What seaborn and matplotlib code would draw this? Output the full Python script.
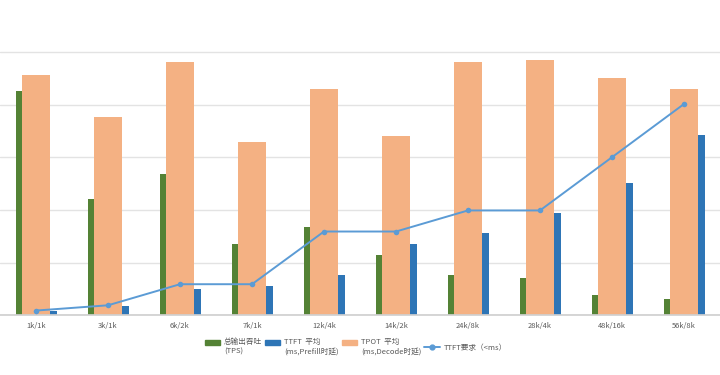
import matplotlib
matplotlib.use('Agg')
import matplotlib.pyplot as plt
import seaborn as sns
import numpy as np
import pandas as pd
from matplotlib.patches import Patch
from matplotlib.lines import Line2D

categories = ['1k/1k', '3k/1k', '6k/2k', '7k/1k', '12k/4k', '14k/2k', '24k/8k', '28k/4k', '48k/16k', '56k/8k']
tps = [4260, 2200, 2690, 1360, 1670, 1140, 760, 710, 380, 300]
ttft_avg = [80, 180, 490, 560, 760, 1350, 1570, 1940, 2510, 3430]
tpot_avg = [4560, 3760, 4810, 3290, 4290, 3400, 4810, 4840, 4500, 4290]
ttft_req = [90, 190, 590, 590, 1590, 1590, 1990, 1990, 3000, 4010]

GREEN = '#548235'
BLUE = '#2E75B6'
ORANGE = '#F4B183'
LINE = '#5B9BD5'
TEXT = '#595959'

if __name__ == '__main__':
    sns.set_theme(style='white')
    plt.rcParams['font.family'] = ['Noto Sans CJK SC', 'DejaVu Sans']

    df = pd.DataFrame({'cat': categories, 'tps': tps, 'ttft': ttft_avg,
                       'tpot': tpot_avg, 'req': ttft_req})
    x = np.arange(len(categories))

    fig = plt.figure(figsize=(7.2, 3.75), dpi=100)
    ax = fig.add_axes([0, 0.1592, 1, 0.7728])

    # wide TPOT bars in the middle, thin TPS / TTFT bars on each side
    ax.bar(x - 0.235, df['tps'], width=0.08, color=GREEN, linewidth=0, zorder=2)
    ax.bar(x, df['tpot'], width=0.39, color=ORANGE, linewidth=0, zorder=2)
    ax.bar(x + 0.24, df['ttft'], width=0.09, color=BLUE, linewidth=0, zorder=2)

    sns.lineplot(x=x, y=df['req'], ax=ax, color=LINE, marker='o', markersize=4,
                 markeredgewidth=0, linewidth=1.4, sort=False, zorder=4)

    ax.set_xlim(-0.5, len(categories) - 0.5)
    ax.set_ylim(0, 5500)
    ax.set_yticks(range(0, 6000, 1000))
    ax.yaxis.grid(True, color='#e3e3e3', linewidth=1, zorder=0)
    ax.set_yticklabels([])
    ax.tick_params(axis='y', length=0)
    ax.set_xticks(x)
    ax.set_xticklabels(categories, fontsize=5.4, color=TEXT)
    ax.tick_params(axis='x', length=0, pad=5)
    ax.set_xlabel('')
    ax.set_ylabel('')
    for s in ['top', 'left', 'right']:
        ax.spines[s].set_visible(False)
    ax.spines['bottom'].set_color('#d0d0d0')
    ax.spines['bottom'].set_zorder(3)

    handles = [
        Patch(color=GREEN),
        Patch(color=BLUE),
        Patch(color=ORANGE),
        Line2D([], [], color=LINE, marker='o', markersize=3.5, linewidth=1.4),
    ]
    labels = ['总输出吞吐\n(TPS)', 'TTFT  平均\n(ms,Prefill时延)',
              'TPOT  平均\n(ms,Decode时延)', 'TTFT要求（<ms）']
    leg = fig.legend(handles, labels, loc='upper center', bbox_to_anchor=(0.494, 0.117),
                     ncol=4, frameon=False, fontsize=5.5, handlelength=2.0, handleheight=0.6,
                     handletextpad=0.5, columnspacing=0.4, labelcolor=TEXT)
    # put the patches level with the first label line
    for h in leg.legend_handles[:3]:
        h.set_y(h.get_y() + 3)

    fig.savefig('out.png', dpi=100)
